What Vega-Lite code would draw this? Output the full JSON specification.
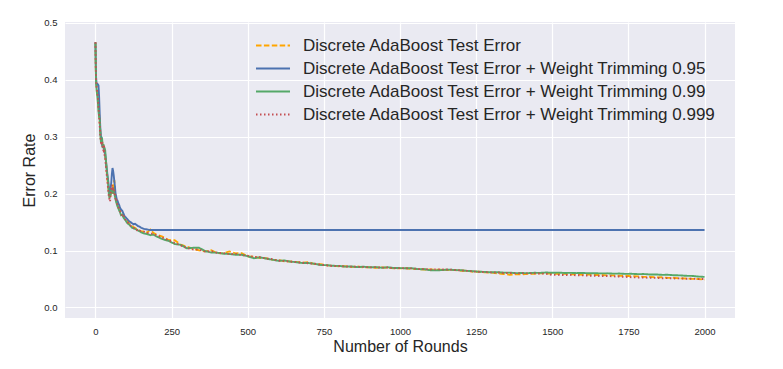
{
  "$schema": "https://vega.github.io/schema/vega-lite/v6.json",
  "width": 670,
  "height": 296,
  "autosize": "none",
  "padding": {"left": 65, "top": 22, "right": 48, "bottom": 51},
  "background": "white",
  "data": {
    "values": [
      {"r":0,"a":0.466,"b":0.466,"c":0.465,"d":0.466},
      {"r":1,"a":0.42,"b":0.43,"c":0.425,"d":0.43},
      {"r":2,"a":0.40,"b":0.405,"c":0.395,"d":0.40},
      {"r":4,"a":0.385,"b":0.39,"c":0.38,"d":0.385},
      {"r":6,"a":0.375,"b":0.393,"c":0.372,"d":0.378},
      {"r":8,"a":0.37,"b":0.392,"c":0.36,"d":0.368},
      {"r":10,"a":0.355,"b":0.39,"c":0.345,"d":0.35},
      {"r":12,"a":0.34,"b":0.37,"c":0.335,"d":0.338},
      {"r":14,"a":0.325,"b":0.34,"c":0.33,"d":0.32},
      {"r":16,"a":0.31,"b":0.315,"c":0.305,"d":0.30},
      {"r":18,"a":0.295,"b":0.30,"c":0.29,"d":0.29},
      {"r":20,"a":0.288,"b":0.29,"c":0.293,"d":0.285},
      {"r":22,"a":0.29,"b":0.285,"c":0.295,"d":0.292},
      {"r":24,"a":0.282,"b":0.283,"c":0.28,"d":0.278},
      {"r":26,"a":0.285,"b":0.282,"c":0.287,"d":0.276},
      {"r":28,"a":0.278,"b":0.28,"c":0.282,"d":0.286},
      {"r":30,"a":0.275,"b":0.274,"c":0.28,"d":0.268},
      {"r":32,"a":0.265,"b":0.27,"c":0.276,"d":0.262},
      {"r":34,"a":0.255,"b":0.26,"c":0.26,"d":0.25},
      {"r":36,"a":0.245,"b":0.248,"c":0.25,"d":0.238},
      {"r":38,"a":0.232,"b":0.24,"c":0.235,"d":0.228},
      {"r":40,"a":0.222,"b":0.23,"c":0.228,"d":0.218},
      {"r":42,"a":0.21,"b":0.222,"c":0.215,"d":0.205},
      {"r":44,"a":0.205,"b":0.21,"c":0.2,"d":0.195},
      {"r":46,"a":0.198,"b":0.205,"c":0.192,"d":0.19},
      {"r":48,"a":0.2,"b":0.2,"c":0.196,"d":0.186},
      {"r":50,"a":0.195,"b":0.21,"c":0.198,"d":0.2},
      {"r":52,"a":0.205,"b":0.22,"c":0.207,"d":0.21},
      {"r":54,"a":0.21,"b":0.235,"c":0.2,"d":0.215},
      {"r":56,"a":0.2,"b":0.245,"c":0.21,"d":0.205},
      {"r":58,"a":0.215,"b":0.24,"c":0.206,"d":0.212},
      {"r":60,"a":0.22,"b":0.232,"c":0.21,"d":0.2},
      {"r":62,"a":0.224,"b":0.222,"c":0.2,"d":0.206},
      {"r":64,"a":0.205,"b":0.212,"c":0.195,"d":0.198},
      {"r":66,"a":0.195,"b":0.2,"c":0.19,"d":0.19},
      {"r":68,"a":0.19,"b":0.195,"c":0.185,"d":0.192},
      {"r":70,"a":0.185,"b":0.19,"c":0.182,"d":0.186},
      {"r":72,"a":0.182,"b":0.188,"c":0.178,"d":0.18},
      {"r":74,"a":0.178,"b":0.185,"c":0.176,"d":0.178},
      {"r":76,"a":0.18,"b":0.182,"c":0.173,"d":0.175},
      {"r":78,"a":0.175,"b":0.18,"c":0.17,"d":0.172},
      {"r":80,"a":0.172,"b":0.176,"c":0.168,"d":0.17},
      {"r":84,"a":0.168,"b":0.172,"c":0.162,"d":0.166},
      {"r":88,"a":0.165,"b":0.17,"c":0.163,"d":0.16},
      {"r":92,"a":0.16,"b":0.165,"c":0.158,"d":0.162},
      {"r":96,"a":0.158,"b":0.16,"c":0.155,"d":0.156},
      {"r":100,"a":0.155,"b":0.158,"c":0.152,"d":0.153},
      {"r":105,"a":0.152,"b":0.155,"c":0.148,"d":0.15},
      {"r":110,"a":0.148,"b":0.152,"c":0.146,"d":0.147},
      {"r":115,"a":0.145,"b":0.15,"c":0.143,"d":0.144},
      {"r":120,"a":0.143,"b":0.148,"c":0.14,"d":0.142},
      {"r":125,"a":0.141,"b":0.146,"c":0.139,"d":0.14},
      {"r":130,"a":0.14,"b":0.147,"c":0.138,"d":0.138},
      {"r":135,"a":0.138,"b":0.145,"c":0.137,"d":0.136},
      {"r":140,"a":0.137,"b":0.143,"c":0.135,"d":0.137},
      {"r":145,"a":0.135,"b":0.142,"c":0.134,"d":0.134},
      {"r":150,"a":0.134,"b":0.14,"c":0.132,"d":0.135},
      {"r":160,"a":0.133,"b":0.138,"c":0.13,"d":0.133},
      {"r":170,"a":0.132,"b":0.137,"c":0.129,"d":0.131},
      {"r":180,"a":0.137,"b":0.136,"c":0.127,"d":0.13},
      {"r":190,"a":0.131,"b":0.136,"c":0.128,"d":0.129},
      {"r":200,"a":0.128,"b":0.136,"c":0.125,"d":0.127},
      {"r":220,"a":0.1245,"b":0.136,"c":0.1200,"d":0.1225},
      {"r":240,"a":0.1185,"b":0.136,"c":0.1170,"d":0.1180},
      {"r":260,"a":0.1180,"b":0.136,"c":0.1115,"d":0.1135},
      {"r":280,"a":0.1105,"b":0.136,"c":0.1100,"d":0.1090},
      {"r":300,"a":0.1070,"b":0.136,"c":0.1040,"d":0.1045},
      {"r":320,"a":0.1030,"b":0.136,"c":0.1048,"d":0.1020},
      {"r":340,"a":0.1005,"b":0.136,"c":0.1050,"d":0.1015},
      {"r":360,"a":0.0985,"b":0.136,"c":0.0990,"d":0.0982},
      {"r":380,"a":0.1005,"b":0.136,"c":0.0965,"d":0.0990},
      {"r":400,"a":0.0955,"b":0.136,"c":0.0962,"d":0.0960},
      {"r":420,"a":0.0950,"b":0.136,"c":0.0945,"d":0.0955},
      {"r":440,"a":0.0985,"b":0.136,"c":0.0940,"d":0.0935},
      {"r":460,"a":0.0950,"b":0.136,"c":0.0925,"d":0.0942},
      {"r":480,"a":0.0955,"b":0.136,"c":0.0925,"d":0.0920},
      {"r":500,"a":0.0895,"b":0.136,"c":0.0900,"d":0.0910},
      {"r":520,"a":0.0890,"b":0.136,"c":0.0865,"d":0.0888},
      {"r":540,"a":0.0870,"b":0.136,"c":0.0880,"d":0.0885},
      {"r":560,"a":0.0865,"b":0.136,"c":0.0860,"d":0.0860},
      {"r":580,"a":0.0840,"b":0.136,"c":0.0840,"d":0.0850},
      {"r":600,"a":0.0835,"b":0.136,"c":0.0820,"d":0.0822},
      {"r":620,"a":0.0812,"b":0.136,"c":0.0825,"d":0.0818},
      {"r":640,"a":0.0808,"b":0.136,"c":0.0805,"d":0.0805},
      {"r":660,"a":0.0798,"b":0.136,"c":0.0795,"d":0.0798},
      {"r":680,"a":0.0788,"b":0.136,"c":0.0780,"d":0.0785},
      {"r":700,"a":0.0795,"b":0.136,"c":0.0780,"d":0.0775},
      {"r":720,"a":0.0762,"b":0.136,"c":0.0768,"d":0.0768},
      {"r":740,"a":0.0758,"b":0.136,"c":0.0745,"d":0.0750},
      {"r":760,"a":0.0740,"b":0.136,"c":0.0743,"d":0.0740},
      {"r":780,"a":0.0733,"b":0.136,"c":0.0732,"d":0.0726},
      {"r":800,"a":0.0722,"b":0.136,"c":0.0730,"d":0.0730},
      {"r":820,"a":0.0725,"b":0.136,"c":0.0717,"d":0.0720},
      {"r":840,"a":0.0712,"b":0.136,"c":0.0721,"d":0.0718},
      {"r":860,"a":0.0720,"b":0.136,"c":0.0709,"d":0.0714},
      {"r":880,"a":0.0706,"b":0.136,"c":0.0716,"d":0.0713},
      {"r":900,"a":0.0706,"b":0.136,"c":0.0705,"d":0.0704},
      {"r":920,"a":0.0698,"b":0.136,"c":0.0709,"d":0.0706},
      {"r":940,"a":0.0705,"b":0.136,"c":0.0698,"d":0.0700},
      {"r":960,"a":0.0696,"b":0.136,"c":0.0706,"d":0.0702},
      {"r":980,"a":0.0690,"b":0.136,"c":0.0693,"d":0.0690},
      {"r":1000,"a":0.0687,"b":0.136,"c":0.0692,"d":0.0692},
      {"r":1020,"a":0.0688,"b":0.136,"c":0.0689,"d":0.0688},
      {"r":1040,"a":0.0678,"b":0.136,"c":0.0688,"d":0.0686},
      {"r":1060,"a":0.0674,"b":0.136,"c":0.0673,"d":0.0676},
      {"r":1080,"a":0.0666,"b":0.136,"c":0.0672,"d":0.0674},
      {"r":1100,"a":0.0668,"b":0.136,"c":0.0653,"d":0.0668},
      {"r":1120,"a":0.0662,"b":0.136,"c":0.0652,"d":0.0670},
      {"r":1140,"a":0.0664,"b":0.136,"c":0.0658,"d":0.0667},
      {"r":1160,"a":0.0656,"b":0.136,"c":0.0665,"d":0.0666},
      {"r":1180,"a":0.0656,"b":0.136,"c":0.0658,"d":0.0658},
      {"r":1200,"a":0.0646,"b":0.136,"c":0.0654,"d":0.0652},
      {"r":1220,"a":0.0644,"b":0.136,"c":0.0643,"d":0.0643},
      {"r":1240,"a":0.0628,"b":0.136,"c":0.0637,"d":0.0634},
      {"r":1260,"a":0.0627,"b":0.136,"c":0.0628,"d":0.0626},
      {"r":1280,"a":0.0616,"b":0.136,"c":0.0624,"d":0.0622},
      {"r":1300,"a":0.0614,"b":0.136,"c":0.0618,"d":0.0615},
      {"r":1320,"a":0.0598,"b":0.136,"c":0.0620,"d":0.0614},
      {"r":1340,"a":0.0587,"b":0.136,"c":0.0613,"d":0.0606},
      {"r":1360,"a":0.0576,"b":0.136,"c":0.0612,"d":0.0605},
      {"r":1380,"a":0.0584,"b":0.136,"c":0.0603,"d":0.0598},
      {"r":1400,"a":0.0583,"b":0.136,"c":0.0605,"d":0.0602},
      {"r":1420,"a":0.0592,"b":0.136,"c":0.0603,"d":0.0598},
      {"r":1440,"a":0.0590,"b":0.136,"c":0.0609,"d":0.0600},
      {"r":1460,"a":0.0600,"b":0.136,"c":0.0608,"d":0.0597},
      {"r":1480,"a":0.0598,"b":0.136,"c":0.0614,"d":0.0592},
      {"r":1500,"a":0.0597,"b":0.136,"c":0.0610,"d":0.0573},
      {"r":1520,"a":0.0588,"b":0.136,"c":0.0612,"d":0.0572},
      {"r":1540,"a":0.0590,"b":0.136,"c":0.0606,"d":0.0570},
      {"r":1560,"a":0.0583,"b":0.136,"c":0.0608,"d":0.0572},
      {"r":1580,"a":0.0582,"b":0.136,"c":0.0604,"d":0.0566},
      {"r":1600,"a":0.0576,"b":0.136,"c":0.0606,"d":0.0564},
      {"r":1620,"a":0.0577,"b":0.136,"c":0.0600,"d":0.0558},
      {"r":1640,"a":0.0570,"b":0.136,"c":0.0602,"d":0.0558},
      {"r":1660,"a":0.0572,"b":0.136,"c":0.0598,"d":0.0551},
      {"r":1680,"a":0.0564,"b":0.136,"c":0.0600,"d":0.0554},
      {"r":1700,"a":0.0564,"b":0.136,"c":0.0594,"d":0.0546},
      {"r":1720,"a":0.0556,"b":0.136,"c":0.0596,"d":0.0543},
      {"r":1740,"a":0.0557,"b":0.136,"c":0.0590,"d":0.0538},
      {"r":1760,"a":0.0548,"b":0.136,"c":0.0592,"d":0.0532},
      {"r":1780,"a":0.0547,"b":0.136,"c":0.0586,"d":0.0526},
      {"r":1800,"a":0.0538,"b":0.136,"c":0.0587,"d":0.0527},
      {"r":1820,"a":0.0538,"b":0.136,"c":0.0580,"d":0.0520},
      {"r":1840,"a":0.0528,"b":0.136,"c":0.0580,"d":0.0520},
      {"r":1860,"a":0.0530,"b":0.136,"c":0.0573,"d":0.0514},
      {"r":1880,"a":0.0520,"b":0.136,"c":0.0574,"d":0.0516},
      {"r":1900,"a":0.0520,"b":0.136,"c":0.0566,"d":0.0510},
      {"r":1920,"a":0.0512,"b":0.136,"c":0.0564,"d":0.0512},
      {"r":1940,"a":0.0510,"b":0.136,"c":0.0556,"d":0.0504},
      {"r":1960,"a":0.0502,"b":0.136,"c":0.0554,"d":0.0506},
      {"r":1980,"a":0.0500,"b":0.136,"c":0.0543,"d":0.0498},
      {"r":2000,"a":0.0490,"b":0.136,"c":0.0537,"d":0.0500}
    ]
  },
  "transform": [
    {"fold": ["a", "b", "c", "d"], "as": ["series", "err"]}
  ],
  "mark": {"type": "line", "strokeWidth": 1.9, "interpolate": "linear"},
  "encoding": {
    "x": {
      "field": "r", "type": "quantitative",
      "scale": {"domain": [-100, 2100], "nice": false, "zero": false},
      "axis": {"title": "Number of Rounds", "values": [0, 250, 500, 750, 1000, 1250, 1500, 1750, 2000], "format": "d", "titlePadding": 3}
    },
    "y": {
      "field": "err", "type": "quantitative",
      "scale": {"domain": [-0.0185, 0.5015], "nice": false, "zero": false},
      "axis": {"title": "Error Rate", "values": [0, 0.1, 0.2, 0.3, 0.4, 0.5], "format": ".1f", "titlePadding": 6}
    },
    "color": {
      "field": "series", "type": "nominal",
      "scale": {"domain": ["a", "b", "c", "d"], "range": ["#FFA500", "#4C72B0", "#55A868", "#C44E52"]},
      "legend": {
        "title": null,
        "labelExpr": "datum.value == 'a' ? 'Discrete AdaBoost Test Error' : datum.value == 'b' ? 'Discrete AdaBoost Test Error + Weight Trimming 0.95' : datum.value == 'c' ? 'Discrete AdaBoost Test Error + Weight Trimming 0.99' : 'Discrete AdaBoost Test Error + Weight Trimming 0.999'"
      }
    },
    "strokeDash": {
      "field": "series", "type": "nominal",
      "scale": {"domain": ["a", "b", "c", "d"], "range": [[5.5, 2.4], [1, 0], [1, 0], [1.5, 2.5]]},
      "legend": {
        "title": null,
        "labelExpr": "datum.value == 'a' ? 'Discrete AdaBoost Test Error' : datum.value == 'b' ? 'Discrete AdaBoost Test Error + Weight Trimming 0.95' : datum.value == 'c' ? 'Discrete AdaBoost Test Error + Weight Trimming 0.99' : 'Discrete AdaBoost Test Error + Weight Trimming 0.999'"
      }
    }
  },
  "config": {
    "view": {"stroke": null, "fill": "#EAEAF2"},
    "axis": {
      "grid": true, "gridColor": "#FFFFFF", "gridWidth": 1.2,
      "domain": false, "ticks": false,
      "labelFont": "Liberation Sans", "labelFontSize": 9.5, "labelColor": "#262626",
      "labelPadding": 8, "labelFlush": false,
      "titleFont": "Liberation Sans", "titleFontSize": 16, "titleFontWeight": "normal", "titleColor": "#262626"
    },
    "legend": {
      "orient": "none", "legendX": 190, "legendY": 13,
      "padding": 0,
      "symbolType": "stroke", "symbolSize": 1156, "symbolStrokeWidth": 2,
      "labelFont": "Liberation Sans", "labelFontSize": 17, "labelColor": "#262626",
      "labelOffset": 12, "rowPadding": 2, "clipHeight": 21, "labelLimit": 600
    }
  }
}
